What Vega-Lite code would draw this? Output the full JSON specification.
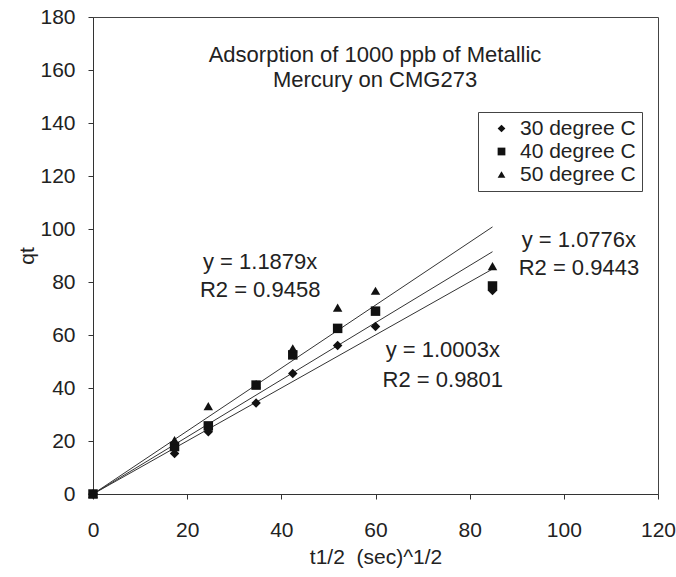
{
  "$schema": "https://vega.github.io/schema/vega-lite/v6.json",
  "width": 565,
  "height": 477,
  "autosize": "none",
  "padding": {"left": 93, "top": 17, "right": 18, "bottom": 83},
  "background": "white",
  "config": {
    "font": "Liberation Sans",
    "view": {"stroke": "#444", "strokeWidth": 1},
    "axis": {
      "domainColor": "#333",
      "tickColor": "#333",
      "tickSize": 5,
      "grid": false,
      "labelFlush": false,
      "labelFontSize": 21,
      "labelColor": "#222",
      "titleFontSize": 21,
      "titleFontWeight": "normal",
      "titleColor": "#222"
    }
  },
  "datasets": {
    "points": [
      {"t": 0, "qt": 0, "series": "30 degree C"},
      {"t": 17.32, "qt": 15.3, "series": "30 degree C"},
      {"t": 24.49, "qt": 23.5, "series": "30 degree C"},
      {"t": 34.64, "qt": 34.3, "series": "30 degree C"},
      {"t": 42.43, "qt": 45.5, "series": "30 degree C"},
      {"t": 51.96, "qt": 56.0, "series": "30 degree C"},
      {"t": 60.0, "qt": 63.2, "series": "30 degree C"},
      {"t": 84.85, "qt": 76.8, "series": "30 degree C"},
      {"t": 0, "qt": 0, "series": "40 degree C"},
      {"t": 17.32, "qt": 17.9, "series": "40 degree C"},
      {"t": 24.49, "qt": 25.7, "series": "40 degree C"},
      {"t": 34.64, "qt": 41.1, "series": "40 degree C"},
      {"t": 42.43, "qt": 52.5, "series": "40 degree C"},
      {"t": 51.96, "qt": 62.5, "series": "40 degree C"},
      {"t": 60.0, "qt": 69.0, "series": "40 degree C"},
      {"t": 84.85, "qt": 78.5, "series": "40 degree C"},
      {"t": 0, "qt": 0, "series": "50 degree C"},
      {"t": 17.32, "qt": 20.3, "series": "50 degree C"},
      {"t": 24.49, "qt": 33.2, "series": "50 degree C"},
      {"t": 34.64, "qt": 41.5, "series": "50 degree C"},
      {"t": 42.43, "qt": 55.0, "series": "50 degree C"},
      {"t": 51.96, "qt": 70.3, "series": "50 degree C"},
      {"t": 60.0, "qt": 76.7, "series": "50 degree C"},
      {"t": 84.85, "qt": 86.0, "series": "50 degree C"}
    ],
    "trend": [
      {"t": 0, "qt": 0, "series": "30 degree C"},
      {"t": 84.85, "qt": 84.88, "series": "30 degree C"},
      {"t": 0, "qt": 0, "series": "40 degree C"},
      {"t": 84.85, "qt": 91.43, "series": "40 degree C"},
      {"t": 0, "qt": 0, "series": "50 degree C"},
      {"t": 84.85, "qt": 100.79, "series": "50 degree C"}
    ],
    "notes": [
      {"t": 59.9, "qt": 165.7, "label": "Adsorption of 1000 ppb of Metallic"},
      {"t": 59.9, "qt": 156.2, "label": "Mercury on CMG273"},
      {"t": 35.5, "qt": 87.5, "label": "y = 1.1879x"},
      {"t": 35.5, "qt": 77.0, "label": "R2 = 0.9458"},
      {"t": 103.2, "qt": 95.8, "label": "y = 1.0776x"},
      {"t": 103.2, "qt": 85.3, "label": "R2 = 0.9443"},
      {"t": 74.3, "qt": 54.3, "label": "y = 1.0003x"},
      {"t": 74.3, "qt": 43.0, "label": "R2 = 0.9801"}
    ]
  },
  "encoding": {
    "x": {
      "field": "t",
      "type": "quantitative",
      "scale": {"domain": [0, 120], "nice": false, "zero": true},
      "axis": {"values": [0, 20, 40, 60, 80, 100, 120], "title": "t1/2\u00a0 (sec)^1/2", "labelPadding": 20, "titlePadding": 6}
    },
    "y": {
      "field": "qt",
      "type": "quantitative",
      "scale": {"domain": [0, 180], "nice": false},
      "axis": {"values": [0, 20, 40, 60, 80, 100, 120, 140, 160, 180], "title": "qt", "labelPadding": 13, "titlePadding": 2}
    }
  },
  "layer": [
    {
      "data": {"name": "trend"},
      "mark": {"type": "line", "color": "#333", "strokeWidth": 1},
      "encoding": {"detail": {"field": "series"}}
    },
    {
      "data": {"name": "points"},
      "mark": {"type": "point", "filled": true, "color": "#111", "opacity": 1, "size": 90},
      "encoding": {
        "shape": {
          "field": "series",
          "type": "nominal",
          "scale": {"domain": ["30 degree C", "40 degree C", "50 degree C"], "range": ["diamond", "square", "triangle-up"]},
          "legend": {
            "title": null,
            "orient": "none",
            "legendX": 385,
            "legendY": 95,
            "strokeColor": "#444",
            "fillColor": "white",
            "padding": 6,
            "labelFontSize": 21,
            "labelColor": "#222",
            "symbolFillColor": "#111",
            "symbolStrokeColor": "#111",
            "symbolSize": 60,
            "symbolOffset": 7,
            "rowPadding": 1,
            "labelOffset": 8
          }
        }
      }
    },
    {
      "data": {"name": "notes"},
      "mark": {"type": "text", "color": "#222", "align": "center", "baseline": "middle", "fontSize": 22},
      "encoding": {
        "text": {"field": "label"}
      }
    }
  ]
}
